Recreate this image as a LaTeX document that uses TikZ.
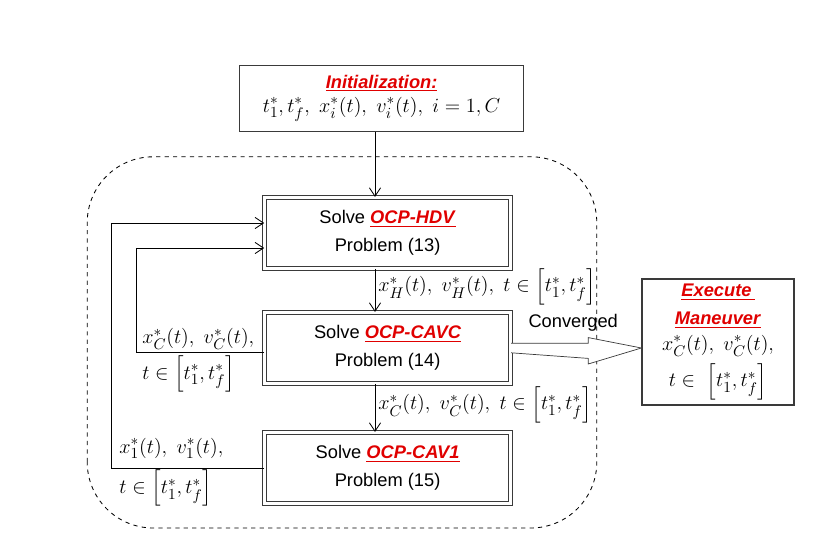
\documentclass[tikz,border=0pt]{standalone}
\usepackage{amsmath}
\usepackage{fontspec}
\setmainfont{Liberation Sans}
\usepackage{tikz}
\usetikzlibrary{arrows.meta, positioning, calc}
\definecolor{ocpRed}{HTML}{E00000}
\definecolor{boxGray}{HTML}{3A3A3A}
\newcommand{\redtag}[1]{\textcolor{ocpRed}{\underline{\textbf{\textit{#1}}}}}
\newcommand{\bigmath}{\fontsize{15.3}{18}\selectfont}

\begin{document}
\begin{tikzpicture}[>={Straight Barb[length=6pt,width=8pt]}, font=\fontsize{13}{16}\selectfont,
    solvebox/.style={draw=boxGray, double, double distance=2pt, line width=0.6pt,
                     minimum width=6.15cm, minimum height=1.78cm, align=center},
    plainbox/.style={draw=boxGray, line width=0.8pt, align=center},
    mathlbl/.style={inner sep=0pt, anchor=west, font=\bigmath},
    flow/.style={->, line width=0.6pt},
    loop/.style={line width=0.6pt},
    bigarrow/.style={draw=boxGray, line width=0.5pt, fill=white}]

  \useasboundingbox (0,0) rectangle (20.8,13.45);

  % outer iteration loop
  \draw[dashed, line width=0.6pt, rounded corners=1.65cm] (2.18,0.25) rectangle (14.92,9.53);

  \node[plainbox, minimum width=7.1cm, minimum height=1.65cm] (init) at (9.54,10.99)
        {\redtag{Initialization:}\\[1pt] {\bigmath$t_1^*, t_f^*,\ x_i^*(t),\ v_i^*(t),\ i=1,C$}};

  \node[solvebox] (hdv)  at (9.69,7.625) {Solve \redtag{OCP-HDV}\\[4pt] Problem (13)};
  \node[solvebox] (cavc) at (9.69,4.75)  {Solve \redtag{OCP-CAVC}\\[4pt] Problem (14)};
  \node[solvebox] (cav1) at (9.69,1.75)  {Solve \redtag{OCP-CAV1}\\[4pt] Problem (15)};

  \node[plainbox, minimum width=3.8cm, minimum height=3.15cm, inner sep=2pt] (exec) at (17.95,4.9)
        {\redtag{Execute\,}\\[4pt] \redtag{Maneuver}\\[2pt]
         {\bigmath$x_C^*(t),\ v_C^*(t),$}\\[4pt] {\bigmath$t\in\ \left[t_1^*, t_f^*\right]$}};

  \coordinate (spine) at (9.375,0);
  \coordinate (loopA) at (2.775,0);
  \coordinate (loopB) at (3.4,0);

  % main chain
  \draw[flow] (init.south -| spine) -- (hdv.north -| spine);
  \draw[flow] (hdv.south -| spine) -- (cavc.north -| spine);
  \draw[flow] (cavc.south -| spine) -- (cav1.north -| spine);

  \node[mathlbl] (lh) at (9.45,6.28)  {$x_H^*(t),\ v_H^*(t),\ t\in\left[t_1^*, t_f^*\right]$};
  \node[mathlbl] (lc) at (9.45,3.33) {$x_C^*(t),\ v_C^*(t),\ t\in\left[t_1^*, t_f^*\right]$};

  % feedback from CAVC and CAV1
  \coordinate (cavcOut) at ($(cavc.west)+(0,-0.1)$);
  \coordinate (hdvInB)  at ($(hdv.west)+(0,-0.375)$);
  \coordinate (hdvInA)  at ($(hdv.west)+(0,0.25)$);
  \draw[loop] (cavcOut) -- (cavcOut -| loopB) -- (hdvInB -| loopB);
  \draw[flow] (hdvInB -| loopB) -- (hdvInB);
  \draw[loop] (cav1.west) -- (cav1.west -| loopA) -- (hdvInA -| loopA);
  \draw[flow] (hdvInA -| loopA) -- (hdvInA);

  \node[mathlbl] (lcv) at (3.55,4.97)  {$x_C^*(t),\ v_C^*(t),$};
  \node[mathlbl] (lct) at (3.55,4.1) {$t\in\left[t_1^*, t_f^*\right]$};
  \node[mathlbl] (l1v) at (2.98,2.24)  {$x_1^*(t),\ v_1^*(t),$};
  \node[mathlbl] (l1t) at (2.98,1.24) {$t\in\left[t_1^*, t_f^*\right]$};

  % converged output
  \draw[bigarrow] ($(cavc.east)+(0,0.12)$) -- ++(1.93,0) -- ++(0,0.14)
      -- (cavc.east -| exec.west) -- ($(cavc.east)+(1.93,-0.4)$) -- ++(0,0.14)
      -- ($(cavc.east)+(0,-0.12)$);
  \node (conv) at (14.33,5.38) {Converged};

\end{tikzpicture}
\end{document}
